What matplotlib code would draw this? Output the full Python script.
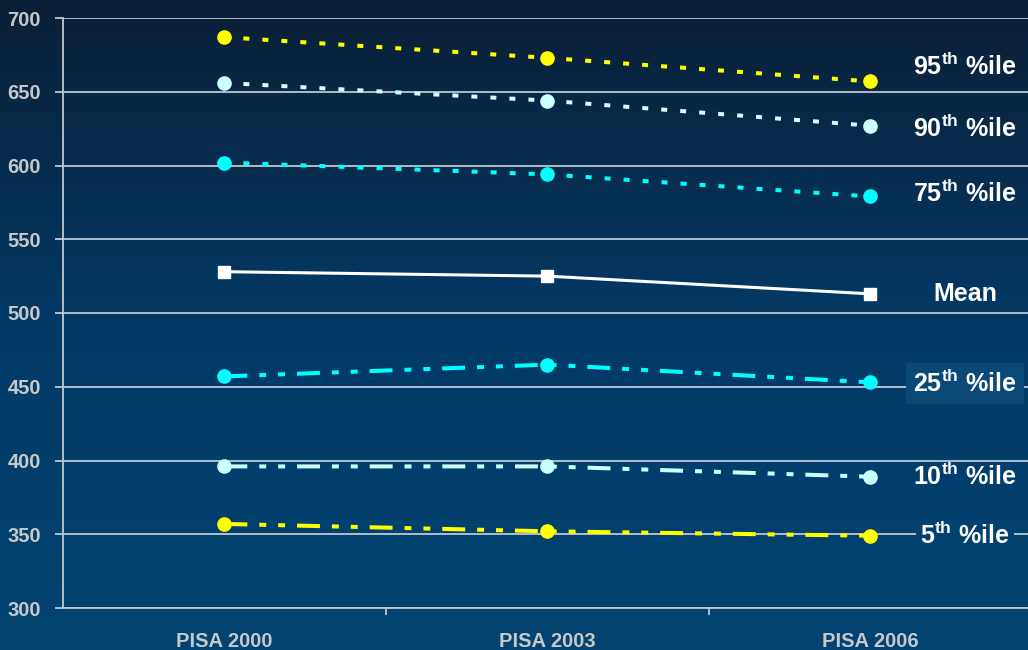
import numpy as np
import matplotlib
matplotlib.use("Agg")
import matplotlib.pyplot as plt
from matplotlib.colors import LinearSegmentedColormap

plt.rcParams['font.family'] = ['Liberation Sans', 'DejaVu Sans']
plt.rcParams['mathtext.fontset'] = 'custom'
plt.rcParams['mathtext.rm'] = 'Liberation Sans:bold'
plt.rcParams['mathtext.bf'] = 'Liberation Sans:bold'
plt.rcParams['lines.scale_dashes'] = False

categories = ["PISA 2000", "PISA 2003", "PISA 2006"]
p95 = [687, 673, 657]
p90 = [656, 644, 627]
p75 = [602, 594, 579]
mean = [528, 525, 513]
p25 = [457, 465, 453]
p10 = [396, 396, 389]
p5 = [357, 352, 349]
yticks = [300, 350, 400, 450, 500, 550, 600, 650, 700]

labels = ["95", "90", "75", "Mean", "25", "10", "5"]
label_y = [667, 625, 581, 513, 452, 389, 349]

W, H = 1028, 650
fig = plt.figure(figsize=(W / 100, H / 100), dpi=100)

# background gradient
bg = fig.add_axes([0, 0, 1, 1], zorder=-10)
cmap = LinearSegmentedColormap.from_list("bg", ["#0c1f36", "#023a66", "#024472"])
grad = np.linspace(0, 1, 256).reshape(-1, 1)
bg.imshow(grad, aspect="auto", cmap=cmap, extent=[0, 1, 0, 1], origin="upper")
bg.axis("off")

ax = fig.add_axes([63 / W, 42 / H, (1031.5 - 63) / W, 590 / H])
ax.set_facecolor("none")
x = np.arange(len(categories))

YEL = "#ffff00"
LCY = "#ccffff"
CYN = "#00ffff"
dot = (0, (4.3, 9.4))
ddot = (0, (16.5, 8.6, 5, 8.6, 5, 8.6))
lw = 2.9
ms = 9.5

ax.plot(x, p95, color=YEL, lw=lw, linestyle=dot, marker="o", ms=ms, zorder=3)
ax.plot(x, p90, color=LCY, lw=lw, linestyle=dot, marker="o", ms=ms, zorder=3)
ax.plot(x, p75, color=CYN, lw=lw, linestyle=dot, marker="o", ms=ms, zorder=3)
ax.plot(x, mean, color="white", lw=2.2, linestyle="-", marker="s", ms=8.5, zorder=3)
ax.plot(x, p25, color=CYN, lw=lw, linestyle=ddot, marker="o", ms=ms, zorder=3)
ax.plot(x, p10, color=LCY, lw=lw, linestyle=ddot, marker="o", ms=ms, zorder=3)
ax.plot(x, p5, color=YEL, lw=lw, linestyle=ddot, marker="o", ms=ms, zorder=3)

ax.set_xlim(-0.5, 2.5)
ax.set_ylim(300, 700)
ax.set_yticks(yticks)
ax.set_xticks(x)
ax.set_xticklabels(categories)
ax.set_xticks([0.5, 1.5], minor=True)
ax.grid(axis="y", color="#c0c8d0", lw=1.3, zorder=1)
ax.tick_params(axis="y", colors="#c0c8d0", labelcolor="#c8c8c8", length=6, width=1.3,
               labelsize=14.5, pad=10)
ax.tick_params(axis="x", which="major", length=0, labelcolor="#c8c8c8", labelsize=14.5, pad=17)
ax.tick_params(axis="x", which="minor", length=5, width=1.3, colors="#c0c8d0")
for lab in ax.get_xticklabels() + ax.get_yticklabels():
    lab.set_fontweight("bold")
for s in ["top", "right"]:
    ax.spines[s].set_visible(False)
ax.spines["left"].set_color("#c0c8d0")
ax.spines["left"].set_linewidth(1.3)
ax.spines["bottom"].set_color("#c0c8d0")
ax.spines["bottom"].set_linewidth(1.3)

lx = (965 - 224) / 323
for lab, yv in zip(labels, label_y):
    if lab == "Mean":
        txt = "Mean"
    else:
        txt = lab + r"$^{\mathrm{th}}$ %ile"
    bbox = None
    if lab == "25":
        bbox = dict(facecolor="#0a4877", edgecolor="none", pad=5)
    elif lab == "5":
        bbox = dict(facecolor="#024070", edgecolor="none", pad=3)
    ax.text(lx, yv, txt, color="white", fontsize=18, fontweight="bold",
            ha="center", va="center", bbox=bbox, zorder=4)

fig.savefig("out.png", dpi=100)
